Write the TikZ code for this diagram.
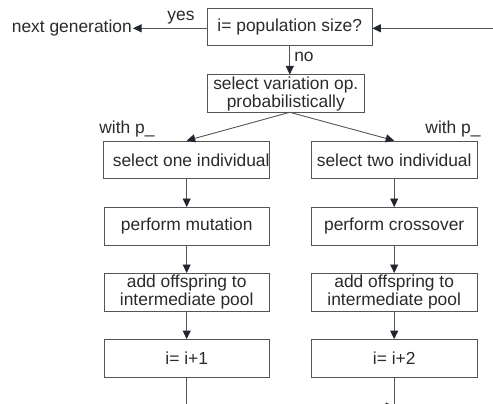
\documentclass[tikz,border=0pt]{standalone}
\usepackage{fontspec}
\setmainfont{Liberation Sans}
\usetikzlibrary{arrows.meta}
\definecolor{txt}{HTML}{2A2A2A}
\definecolor{ln}{HTML}{555555}
\definecolor{tip}{HTML}{222630}
\tikzset{
  box/.style={draw=ln, line width=0.9pt, minimum height=37.5pt, inner sep=0pt, align=center, text=txt, font=\fontsize{17.4}{18.2}\selectfont},
  lbl/.style={text=txt, inner sep=1pt, font=\fontsize{17.4}{18.2}\selectfont},
  conn/.style={draw=ln, line width=0.9pt, -{Triangle[length=8.5pt,width=8pt,color=tip]}},
  plain/.style={draw=ln, line width=0.9pt}
}
\begin{document}
\begin{tikzpicture}[x=1pt,y=-1pt]
\useasboundingbox (0,0) rectangle (493,404);
\clip (0,0) rectangle (493,404);
\node[box, minimum width=164.3pt] (T) at (289.8,27) {i= population size?};
\node[box, minimum width=156.3pt] (V) at (285.8,93.7) {select variation op.\\probabilistically};
\node[lbl, anchor=east] (NG) at (133,28.3) {next generation};
\coordinate (RI) at (493,28.3);
\coordinate (Tn) at (289.8,45.7);
\coordinate (Vb) at (289.8,112.3);
\draw[conn] (RI) -- (T.east |- RI);
\draw[conn] (T.west |- RI) -- (NG.east);
\node[lbl] (yes) at (181,18) {yes};
\draw[conn] (Tn) -- (Vb |- V.north);
\node[lbl] (no) at (304,57) {no};

\node[box, minimum width=165.3pt] (A1) at (186.7,159.8) {\hspace*{9pt}select one individual};
\node[box, minimum width=165.3pt] (B1) at (186.7,226.2) {perform mutation};
\node[box, minimum width=165.3pt] (C1) at (186.7,292.2) {add offspring to\\intermediate pool};
\node[box, minimum width=165.3pt] (D1) at (186.7,358.3) {i= i+1};

\node[box, minimum width=166.3pt] (A2) at (394.2,159.8) {select two individual};
\node[box, minimum width=166.3pt] (B2) at (394.2,226.2) {perform crossover};
\node[box, minimum width=166.3pt] (C2) at (394.2,292.2) {add offspring to\\intermediate pool};
\node[box, minimum width=166.3pt] (D2) at (394.2,358.3) {i= i+2};

\node[lbl] (wp1) at (127,129) {with p\_};
\node[lbl] (wp2) at (453,129) {with p\_};

\draw[conn] (Vb) -- (A1.north);
\draw[conn] (Vb) -- (A2.north);
\draw[conn] (A1) -- (B1);
\draw[conn] (B1) -- (C1);
\draw[conn] (C1) -- (D1);
\draw[conn] (A2) -- (B2);
\draw[conn] (B2) -- (C2);
\draw[conn] (C2) -- (D2);

\coordinate (E1) at (186.7,406.5);
\coordinate (E2) at (394.2,406.5);
\draw[plain] (D1.south) -- (186.7,410);
\draw[plain] (D2.south) -- (394.2,410);
\draw[conn] (E1) -- (E2);
\end{tikzpicture}
\end{document}
